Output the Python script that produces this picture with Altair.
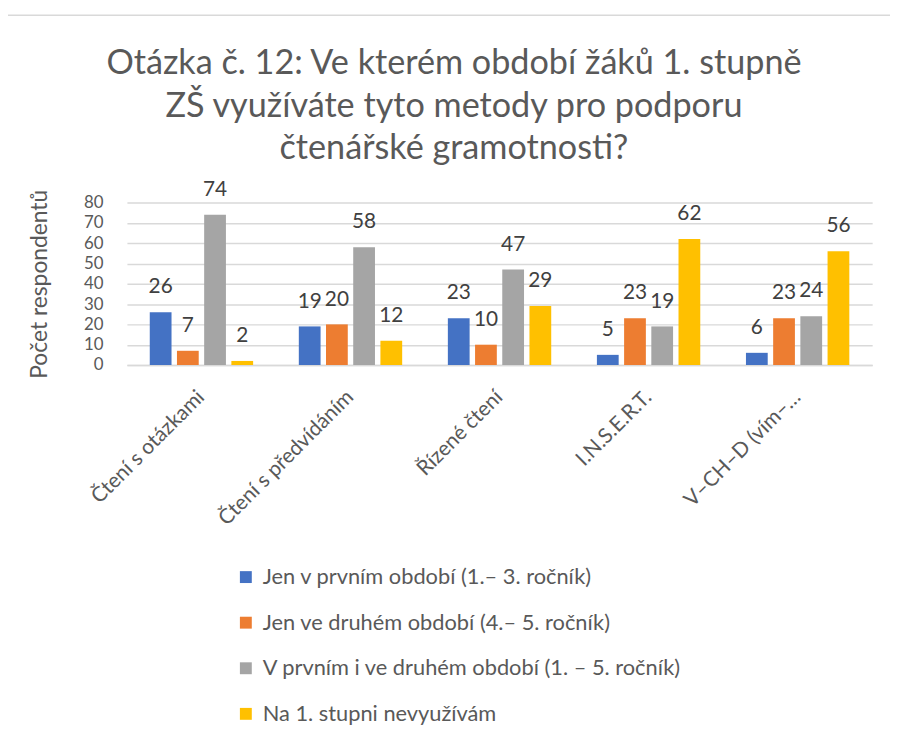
import altair as alt
import pandas as pd

categories = ["Čtení s otázkami", "Čtení s předvídáním", "Řízené čtení", "I.N.S.E.R.T.", "V–CH–D (vím–…"]
series = [
    "Jen v prvním období (1.– 3. ročník)",
    "Jen ve druhém období (4.– 5. ročník)",
    "V prvním i ve druhém období (1. – 5. ročník)",
    "Na 1. stupni nevyužívám",
]
values = {
    series[0]: [26, 19, 23, 5, 6],
    series[1]: [7, 20, 10, 23, 23],
    series[2]: [74, 58, 47, 19, 24],
    series[3]: [2, 12, 29, 62, 56],
}
y_ticks = [0, 10, 20, 30, 40, 50, 60, 70, 80]
colors = ["#4472C4", "#ED7D31", "#A5A5A5", "#FFC000"]
title_lines = [
    "Otázka č. 12: Ve kterém období žáků 1. stupně",
    "ZŠ využíváte tyto metody pro podporu",
    "čtenářské gramotnosti?",
]

rows = []
for s in series:
    for c, v in zip(categories, values[s]):
        rows.append({"cat": c, "series": s, "value": v})
df = pd.DataFrame(rows)

FONT = "Lato"

x = alt.X("cat:N", sort=categories, title=None,
          scale=alt.Scale(paddingInner=0.27, paddingOuter=0.135),
          axis=alt.Axis(labelAngle=-45, labelAlign="right", labelBaseline="middle",
                        labelPadding=29, labelFontSize=21, labelColor="#595959",
                        labelFont=FONT, ticks=False, domainColor="#D9D9D9",
                        domainWidth=1.5, labelLimit=300))
xo = alt.XOffset("series:N", sort=series,
                 scale=alt.Scale(paddingInner=0.2, paddingOuter=0.1))
y = alt.Y("value:Q", title="Počet respondentů",
          scale=alt.Scale(domain=[0, 80], nice=False),
          axis=alt.Axis(values=y_ticks, labelFontSize=17,
                        labelColor="#595959", labelFont=FONT, labelPadding=24,
                        labelOverlap=False, labelBaseline="middle",
                        ticks=False, domain=False, gridColor="#D9D9D9",
                        gridWidth=1.5, titleFontSize=23, titleFont=FONT,
                        titleColor="#595959", titleFontWeight="normal",
                        titlePadding=32))

bars = alt.Chart(df).mark_bar().encode(
    x=x, xOffset=xo, y=y,
    color=alt.Color("series:N", sort=series, title=None,
                    scale=alt.Scale(domain=series, range=colors),
                    legend=alt.Legend(orient="none", legendX=109, legendY=367,
                                      direction="vertical", symbolType="square",
                                      symbolSize=144, symbolStrokeWidth=0,
                                      labelFontSize=22, labelFont=FONT,
                                      labelColor="#595959", rowPadding=24,
                                      labelOffset=6, padding=0, labelLimit=600)),
)

labels = alt.Chart(df).mark_text(baseline="alphabetic", dy=-19, fontSize=21,
                                 font=FONT, color="#404040").encode(
    x=x, xOffset=xo, y=y, text="value:Q",
)

border = alt.Chart(alt.Data(values=[{"a": 1}])).mark_rect(
    fill=None, stroke="#D9D9D9", strokeWidth=1.5).encode(
    x=alt.value(-122), x2=alt.value(900), y=alt.value(-189), y2=alt.value(700))

chart = alt.layer(border, bars, labels).properties(
    width=752, height=164,
    autosize="none",
    padding={"left": 120, "top": 193, "right": 18, "bottom": 360},
    title=alt.TitleParams(text=title_lines, fontSize=34.5, font=FONT,
                          color="#595959", fontWeight="normal", anchor="middle",
                          dx=-46, offset=-153, lineHeight=42.5),
).configure(font=FONT).configure_view(stroke=None)

chart.save("out.html", embed_options={"renderer": "svg", "actions": False})
